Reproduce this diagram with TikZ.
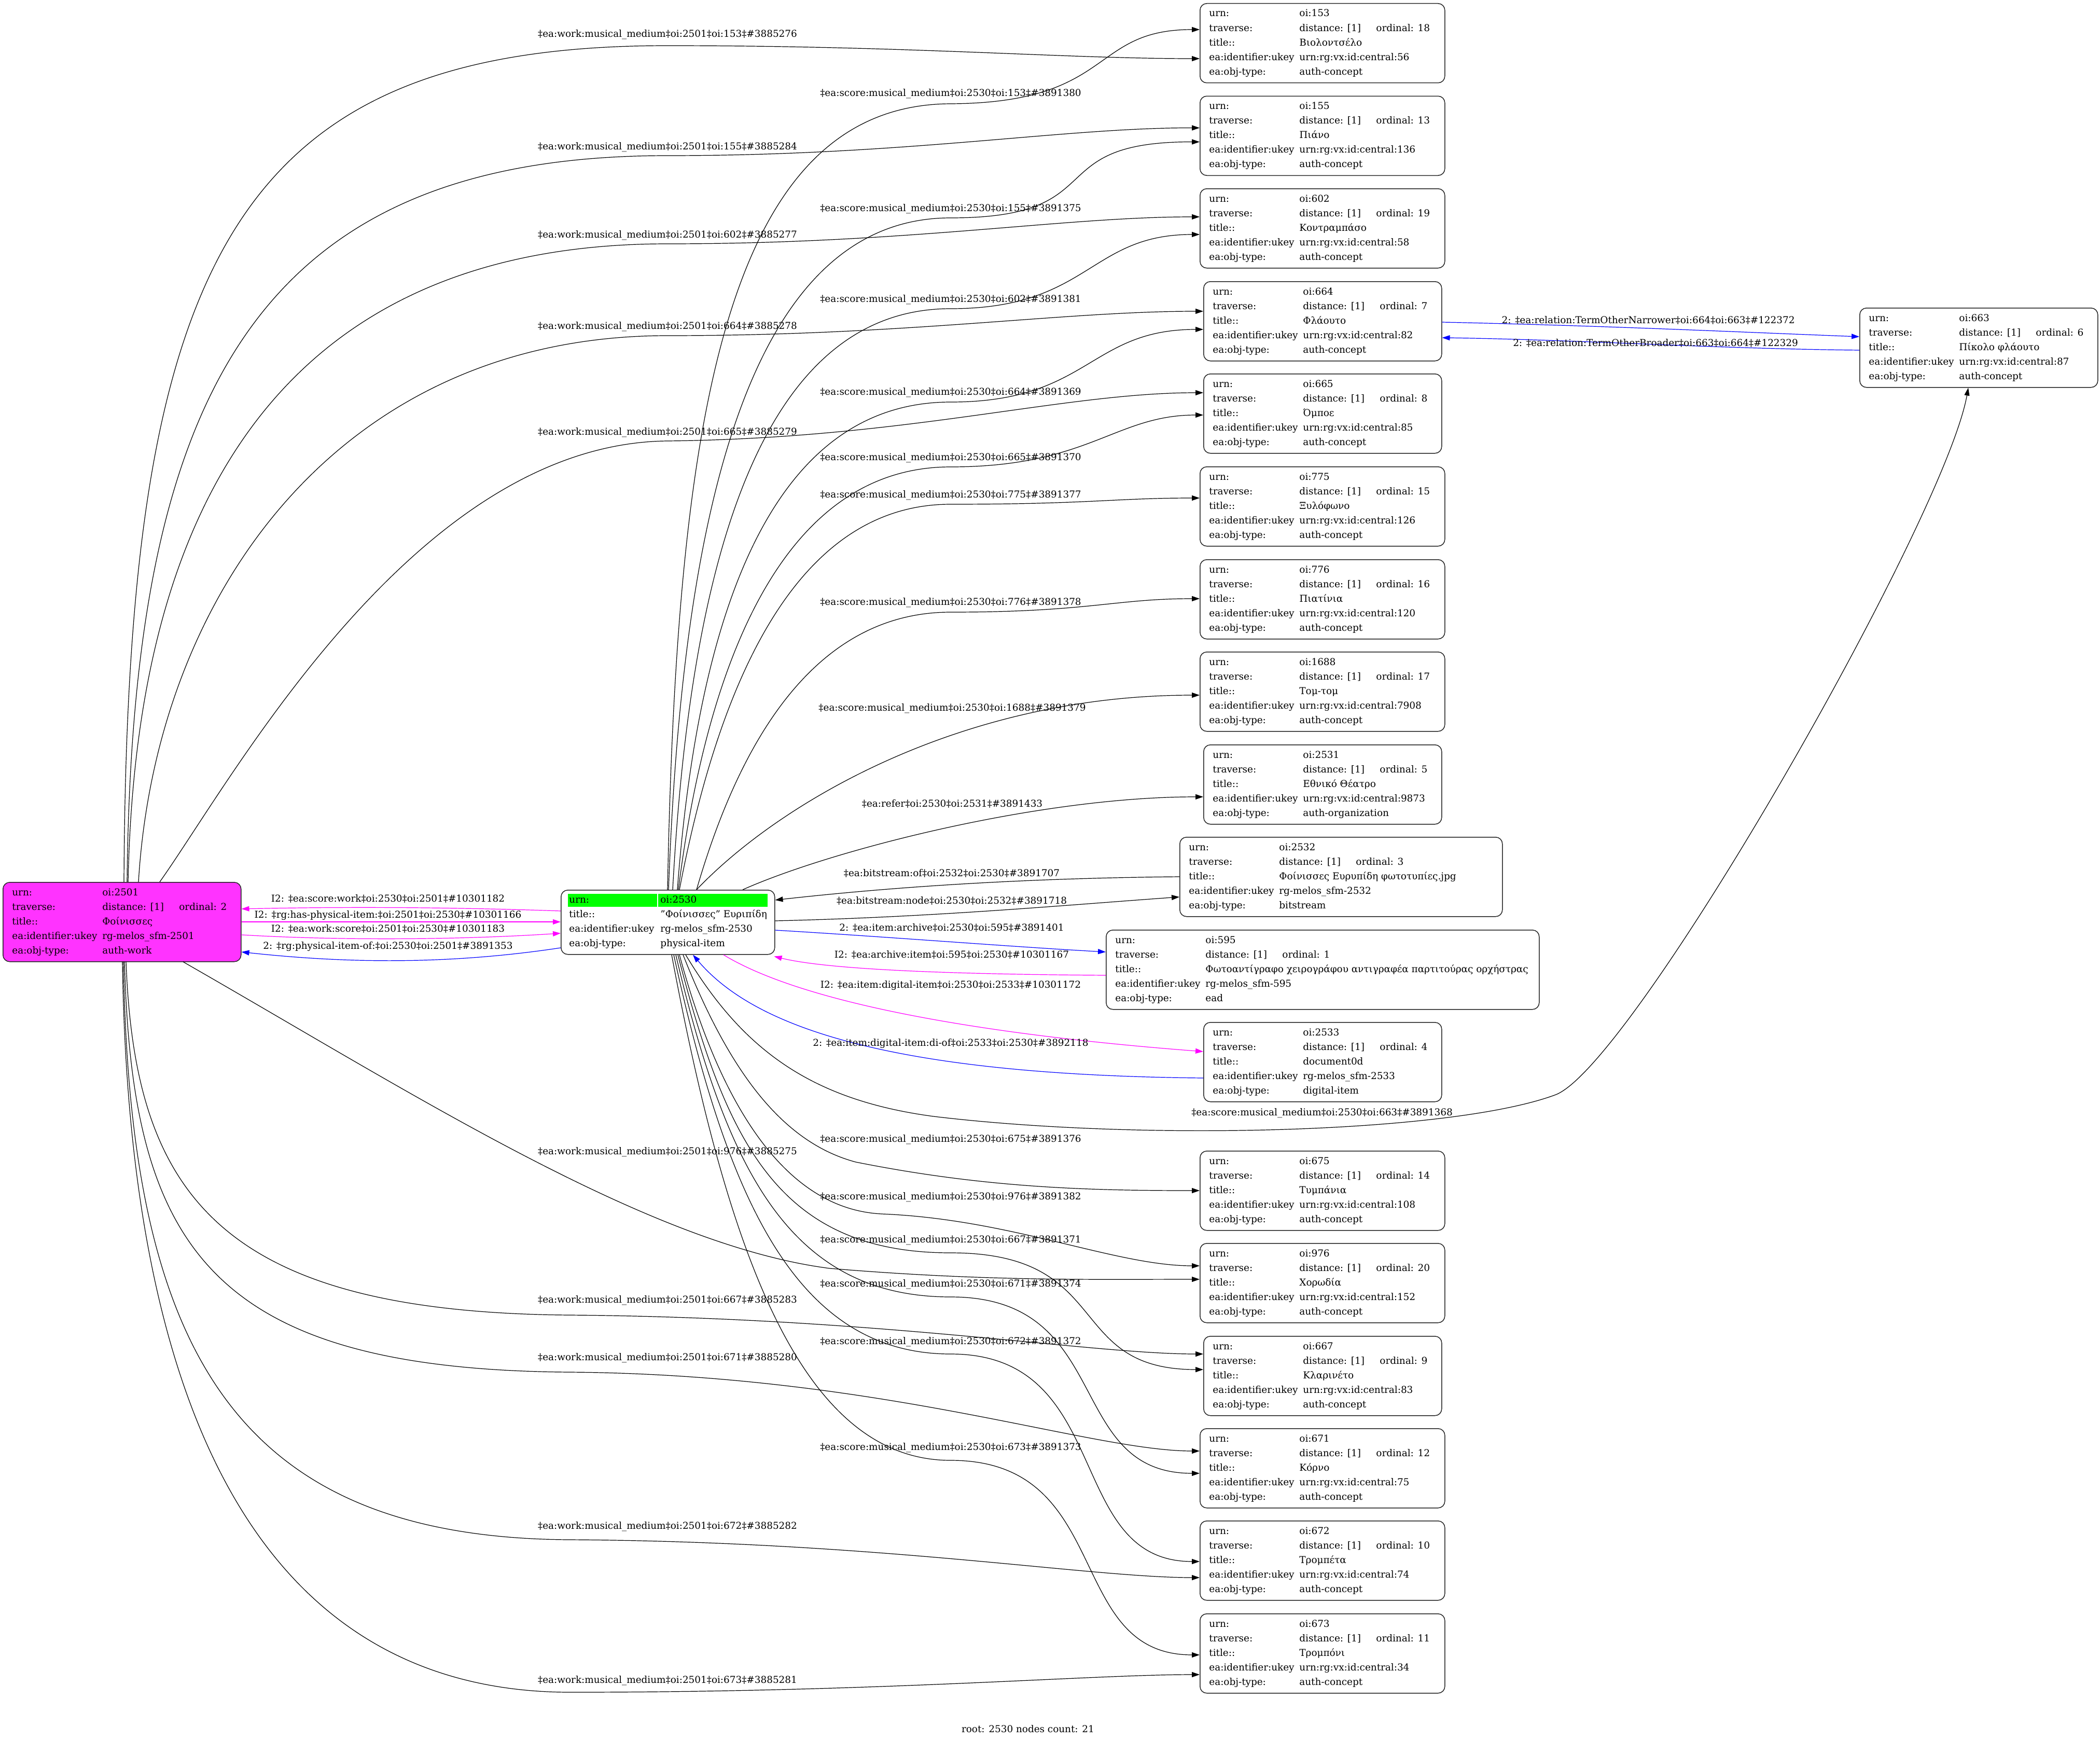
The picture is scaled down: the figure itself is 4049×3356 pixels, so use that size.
\documentclass[tikz,border=0pt]{standalone}
\usepackage{fontspec}
\setmainfont{DejaVu Serif}
\usetikzlibrary{arrows.meta,calc}
\definecolor{mag}{HTML}{FF00FF}
\definecolor{magfill}{HTML}{FF33FF}
\definecolor{blu}{HTML}{0000FF}
\definecolor{grn}{HTML}{00FF00}
\tikzset{
  boxextra/.style={},
  box/.style={draw=black!85, line width=0.75pt, rounded corners=6.5pt, inner sep=0pt,
    anchor=north west, minimum height=76.5pt, boxextra},
  tx/.style={anchor=base west, inner sep=0pt, font=\fontsize{9.2}{11}\selectfont},
  lab/.style={anchor=center, inner sep=0pt, font=\fontsize{9.2}{11}\selectfont},
  e/.style={line width=0.6pt, -{Triangle[length=7.5pt,width=5pt]}},
  em/.style={e, draw=mag},
  eb/.style={e, draw=blu},
}
\newcommand\Cbox[9]{%
  \node[box, minimum width=#4*0.5pt] (#1) at (#2,#3) {};
  \node[tx] (#1ra) at ($(#1.north west)+(18,26)$) {urn:};
  \node[tx] (#1rb) at ($(#1.north west)+(192,26)$) {#5};
  \node[tx] (#1rc) at ($(#1.north west)+(18,54.1)$) {traverse:};
  \node[tx] (#1rd) at ($(#1.north west)+(192,54.1)$) {distance: [1]};
  \node[tx] (#1re) at ($(#1.north west)+(340,54.1)$) {ordinal: #6};
  \node[tx] (#1rf) at ($(#1.north west)+(18,82.2)$) {title::};
  \node[tx] (#1rg) at ($(#1.north west)+(192,82.2)$) {#7};
  \node[tx] (#1rh) at ($(#1.north west)+(18,110.3)$) {ea:identifier:ukey};
  \node[tx] (#1ri) at ($(#1.north west)+(192,110.3)$) {#8};
  \node[tx] (#1rj) at ($(#1.north west)+(18,138.4)$) {ea:obj-type:};
  \node[tx] (#1rk) at ($(#1.north west)+(192,138.4)$) {#9};
}
\newcommand\wm[1]{‡ea:work:musical\_medium‡oi:2501‡oi:#1‡\#}
\newcommand\sm[1]{‡ea:score:musical\_medium‡oi:2530‡oi:#1‡\#}
\begin{document}
\begin{tikzpicture}[x=0.5pt,y=-0.5pt]
\useasboundingbox (0,0) rectangle (4049,3356);
% ---------- nodes ----------
\Cbox{n153}{2313}{6}{472}{oi:153}{18}{Βιολοντσέλο}{urn:rg:vx:id:central:56}{auth-concept}
\Cbox{n155}{2313}{184.5}{472}{oi:155}{13}{Πιάνο}{urn:rg:vx:id:central:136}{auth-concept}
\Cbox{n602}{2313}{363}{472}{oi:602}{19}{Κοντραμπάσο}{urn:rg:vx:id:central:58}{auth-concept}
\Cbox{n664}{2320}{542}{459}{oi:664}{7}{Φλάουτο}{urn:rg:vx:id:central:82}{auth-concept}
\Cbox{n665}{2320}{720}{459}{oi:665}{8}{Όμποε}{urn:rg:vx:id:central:85}{auth-concept}
\Cbox{n775}{2313}{899}{472}{oi:775}{15}{Ξυλόφωνο}{urn:rg:vx:id:central:126}{auth-concept}
\Cbox{n776}{2313}{1078}{472}{oi:776}{16}{Πιατίνια}{urn:rg:vx:id:central:120}{auth-concept}
\Cbox{n1688}{2313}{1256}{472}{oi:1688}{17}{Τομ-τομ}{urn:rg:vx:id:central:7908}{auth-concept}
\Cbox{n2531}{2320}{1435}{459}{oi:2531}{5}{Εθνικό Θέατρο}{urn:rg:vx:id:central:9873}{auth-organization}
\Cbox{n2532}{2274}{1613}{622}{oi:2532}{3}{Φοίνισσες Ευρυπίδη φωτοτυπίες.jpg}{rg-melos\_sfm-2532}{bitstream}
\Cbox{n595}{2132}{1792}{835}{oi:595}{1}{Φωτοαντίγραφο χειρογράφου αντιγραφέα παρτιτούρας ορχήστρας}{rg-melos\_sfm-595}{ead}
\Cbox{n2533}{2320}{1970}{459}{oi:2533}{4}{document0d}{rg-melos\_sfm-2533}{digital-item}
\Cbox{n675}{2313}{2218}{472}{oi:675}{14}{Τυμπάνια}{urn:rg:vx:id:central:108}{auth-concept}
\Cbox{n976}{2313}{2396}{472}{oi:976}{20}{Χορωδία}{urn:rg:vx:id:central:152}{auth-concept}
\Cbox{n667}{2320}{2575}{459}{oi:667}{9}{Κλαρινέτο}{urn:rg:vx:id:central:83}{auth-concept}
\Cbox{n671}{2313}{2753}{472}{oi:671}{12}{Κόρνο}{urn:rg:vx:id:central:75}{auth-concept}
\Cbox{n672}{2313}{2931}{472}{oi:672}{10}{Τρομπέτα}{urn:rg:vx:id:central:74}{auth-concept}
\Cbox{n673}{2313}{3110}{472}{oi:673}{11}{Τρομπόνι}{urn:rg:vx:id:central:34}{auth-concept}
\Cbox{n663}{3585}{593}{459}{oi:663}{6}{Πίκολο φλάουτο}{urn:rg:vx:id:central:87}{auth-concept}
\begin{scope}[boxextra/.style={fill=magfill}]
\Cbox{n2501}{5}{1700}{459}{oi:2501}{2}{Φοίνισσες}{rg-melos\_sfm-2501}{auth-work}
\end{scope}
% root node 2530
\node[box, minimum width=206pt, minimum height=62pt] (n2530) at (1081,1715) {};
\fill[grn] ($(n2530.north west)+(14,8)$) rectangle ($(n2530.north west)+(186,33)$);
\fill[grn] ($(n2530.north west)+(188,8)$) rectangle ($(n2530.north west)+(399,33)$);
\node[tx] (n2530ra) at ($(n2530.north west)+(16,25)$) {urn:};
\node[tx] (n2530rb) at ($(n2530.north west)+(192,25)$) {oi:2530};
\node[tx] (n2530rc) at ($(n2530.north west)+(16,53)$) {title::};
\node[tx] (n2530rd) at ($(n2530.north west)+(192,53)$) {"Φοίνισσες" Ευριπίδη};
\node[tx] (n2530re) at ($(n2530.north west)+(16,81)$) {ea:identifier:ukey};
\node[tx] (n2530rf) at ($(n2530.north west)+(192,81)$) {rg-melos\_sfm-2530};
\node[tx] (n2530rg) at ($(n2530.north west)+(16,109)$) {ea:obj-type:};
\node[tx] (n2530rh) at ($(n2530.north west)+(192,109)$) {physical-item};
% ---------- edges 2501 -> upper concepts ----------
\draw[e] ($(n2501.north west)+(234,0)$) .. controls (245,500) and (450,88) .. (1287,88) .. controls (1750,88) and (2050,113) .. ($(n153.north west)+(0,107)$);
\draw[e] ($(n2501.north west)+(240,0)$) .. controls (255,750) and (500,300) .. (1287,300) .. controls (1750,300) and (2050,246) .. ($(n155.north west)+(0,62)$);
\draw[e] ($(n2501.north west)+(242,0)$) .. controls (262,950) and (560,470) .. (1287,470) .. controls (1750,470) and (2050,418) .. ($(n602.north west)+(0,55)$);
\draw[e] ($(n2501.north west)+(262,0)$) .. controls (300,1150) and (650,647) .. (1287,647) .. controls (1750,647) and (2050,600) .. ($(n664.north west)+(0,58)$);
\draw[e] ($(n2501.north west)+(303,0)$) .. controls (450,1500) and (800,855) .. (1287,850) .. controls (1750,845) and (2050,757) .. ($(n665.north west)+(0,37)$);
% ---------- edges 2530 -> upper concepts ----------
\draw[e] ($(n2530.north west)+(206,0)$) .. controls (1305,800) and (1400,202) .. (1833,200) .. controls (2150,198) and (2100,57) .. ($(n153.north west)+(0,51)$);
\draw[e] ($(n2530.north west)+(208,0)$) .. controls (1315,1000) and (1440,420) .. (1833,420) .. controls (2150,420) and (2000,273) .. ($(n155.north west)+(0,89)$);
\draw[e] ($(n2530.north west)+(216,0)$) .. controls (1330,1100) and (1460,595) .. (1833,595) .. controls (2100,595) and (2100,452) .. ($(n602.north west)+(0,89)$);
\draw[e] ($(n2530.north west)+(225,0)$) .. controls (1345,1200) and (1480,775) .. (1833,775) .. controls (2100,775) and (2100,635) .. ($(n664.north west)+(0,93)$);
\draw[e] ($(n2530.north west)+(227,0)$) .. controls (1360,1300) and (1500,900) .. (1833,900) .. controls (2100,900) and (2150,800) .. ($(n665.north west)+(0,80)$);
\draw[e] ($(n2530.north west)+(229,0)$) .. controls (1380,1350) and (1520,972) .. (1833,972) .. controls (2100,972) and (2150,960) .. ($(n775.north west)+(0,61)$);
\draw[e] ($(n2530.north west)+(262,0)$) .. controls (1420,1450) and (1560,1180) .. (1833,1180) .. controls (2100,1180) and (2150,1154) .. ($(n776.north west)+(0,76)$);
\draw[e] ($(n2530.north west)+(262,0)$) .. controls (1500,1550) and (1850,1340) .. ($(n1688.north west)+(0,84)$);
\draw[e] ($(n2530.north west)+(351,0)$) .. controls (1600,1640) and (2000,1536) .. ($(n2531.north west)+(0,101)$);
% ---------- 2501 <-> 2530 ----------
\draw[em] ($(n2530.north west)+(0,41)$) .. controls (850,1748) and (650,1748) .. ($(n2501.north east)+(0,52)$);
\draw[em] ($(n2501.north east)+(0,77)$) -- ($(n2530.north west)+(0,62)$);
\draw[em] ($(n2501.north east)+(0,102)$) .. controls (650,1813) and (880,1812) .. ($(n2530.north west)+(0,84)$);
\draw[eb] ($(n2530.north west)+(0,112)$) .. controls (850,1862) and (650,1855) .. ($(n2501.north east)+(0,135)$);
% ---------- 2530 <-> 2532 / 595 / 2533 ----------
\draw[e] ($(n2532.north west)+(0,77)$) .. controls (1950,1693) and (1700,1712) .. ($(n2530.north east)+(0,20)$);
\draw[e] ($(n2530.north east)+(0,60)$) .. controls (1800,1768) and (2050,1745) .. ($(n2532.north west)+(0,116)$);
\draw[eb] ($(n2530.north east)+(0,78)$) .. controls (1700,1805) and (1950,1825) .. ($(n595.north west)+(0,43)$);
\draw[em] ($(n595.north west)+(0,88)$) .. controls (1850,1878) and (1600,1870) .. ($(n2530.south east)+(-2,3)$);
\draw[em] ($(n2530.south west)+(314,0)$) .. controls (1550,1935) and (1900,1995) .. ($(n2533.north west)+(0,57)$);
\draw[eb] ($(n2533.north west)+(0,108)$) .. controls (1700,2072) and (1450,1975) .. ($(n2530.south west)+(255,0)$);
% ---------- 2530 -> 663 ----------
\draw[e] ($(n2530.south west)+(241,0)$) .. controls (1430,2020) and (1560,2120) .. (1800,2152) .. controls (2200,2200) and (2800,2185) .. (3000,2110) .. controls (3150,2050) and (3750,1000) .. ($(n663.south west)+(210,0)$);
% ---------- 664 <-> 663 ----------
\draw[eb] ($(n664.north east)+(0,79)$) .. controls (3100,628) and (3350,640) .. ($(n663.north west)+(0,56)$);
\draw[eb] ($(n663.north west)+(0,82)$) .. controls (3300,672) and (3050,655) .. ($(n664.north east)+(0,109)$);
% ---------- 2530 -> lower concepts ----------
\draw[e] ($(n2530.south west)+(236,0)$) .. controls (1400,2050) and (1500,2200) .. (1650,2240) .. controls (1900,2290) and (2100,2295) .. ($(n675.north west)+(0,77)$);
\draw[e] ($(n2530.south west)+(229,0)$) .. controls (1380,2100) and (1500,2330) .. (1700,2340) .. controls (1950,2350) and (2150,2440) .. ($(n976.north west)+(0,44)$);
\draw[e] ($(n2530.south west)+(226,0)$) .. controls (1400,2200) and (1500,2415) .. (1833,2415) .. controls (2150,2415) and (2050,2640) .. ($(n667.north west)+(0,65)$);
\draw[e] ($(n2530.south west)+(222,0)$) .. controls (1400,2250) and (1520,2500) .. (1833,2500) .. controls (2150,2500) and (2050,2840) .. ($(n671.north west)+(0,87)$);
\draw[e] ($(n2530.south west)+(218,0)$) .. controls (1400,2300) and (1530,2610) .. (1833,2610) .. controls (2150,2610) and (2050,3010) .. ($(n672.north west)+(0,79)$);
\draw[e] ($(n2530.south west)+(214,0)$) .. controls (1400,2400) and (1540,2815) .. (1833,2815) .. controls (2150,2815) and (2050,3190) .. ($(n673.north west)+(0,80)$);
% ---------- 2501 -> lower concepts ----------
\draw[e] ($(n2501.north west)+(348,154)$) .. controls (800,2110) and (1250,2400) .. (1600,2445) .. controls (1900,2470) and (2100,2466) .. ($(n976.north west)+(0,70)$);
\draw[e] ($(n2501.north west)+(238,154)$) .. controls (260,2300) and (420,2530) .. (1100,2535) .. controls (1700,2540) and (2100,2610) .. ($(n667.north west)+(0,35)$);
\draw[e] ($(n2501.north west)+(235,154)$) .. controls (255,2400) and (400,2640) .. (1100,2645) .. controls (1700,2650) and (2100,2797) .. ($(n671.north west)+(0,44)$);
\draw[e] ($(n2501.north west)+(233,154)$) .. controls (250,2600) and (450,2965) .. (1100,2968) .. controls (1700,2972) and (2100,3041) .. ($(n672.north west)+(0,110)$);
\draw[e] ($(n2501.north west)+(231,154)$) .. controls (250,2800) and (550,3262) .. (1100,3262) .. controls (1700,3262) and (2100,3228) .. ($(n673.north west)+(0,118)$);
% ---------- labels ----------
\node[lab] (la1) at (1287,67) {\wm{153}3885276};
\node[lab] (la2) at (1287,284) {\wm{155}3885284};
\node[lab] (la3) at (1287,454) {\wm{602}3885277};
\node[lab] (la4) at (1287,630) {\wm{664}3885278};
\node[lab] (la5) at (1287,834) {\wm{665}3885279};
\node[lab] (la6) at (1287,2221) {\wm{976}3885275};
\node[lab] (la7) at (1287,2507) {\wm{667}3885283};
\node[lab] (la8) at (1287,2618) {\wm{671}3885280};
\node[lab] (la9) at (1287,2943) {\wm{672}3885282};
\node[lab] (la10) at (1287,3240) {\wm{673}3885281};
\node[lab] (lb1) at (1833,181) {\sm{153}3891380};
\node[lab] (lb2) at (1833,403) {\sm{155}3891375};
\node[lab] (lb3) at (1833,578) {\sm{602}3891381};
\node[lab] (lb4) at (1833,757) {\sm{664}3891369};
\node[lab] (lb5) at (1833,883) {\sm{665}3891370};
\node[lab] (lb6) at (1833,955) {\sm{775}3891377};
\node[lab] (lb7) at (1833,1162) {\sm{776}3891378};
\node[lab] (lb8) at (1836,1366) {\sm{1688}3891379};
\node[lab] (lb9) at (1836,1549) {‡ea:refer‡oi:2530‡oi:2531‡\#3891433};
\node[lab] (lb10) at (1835,1683) {‡ea:bitstream:of‡oi:2532‡oi:2530‡\#3891707};
\node[lab] (lb11) at (1835,1736) {‡ea:bitstream:node‡oi:2530‡oi:2532‡\#3891718};
\node[lab] (lb12) at (1835,1788) {2: ‡ea:item:archive‡oi:2530‡oi:595‡\#3891401};
\node[lab] (lb13) at (1835,1840) {I2: ‡ea:archive:item‡oi:595‡oi:2530‡\#10301167};
\node[lab] (lb14) at (1833,1900) {I2: ‡ea:item:digital-item‡oi:2530‡oi:2533‡\#10301172};
\node[lab] (lb15) at (1833,2012) {2: ‡ea:item:digital-item:di-of‡oi:2533‡oi:2530‡\#3892118};
\node[lab] (lb16) at (2549,2146) {\sm{663}3891368};
\node[lab] (lb17) at (1833,2197) {\sm{675}3891376};
\node[lab] (lb18) at (1833,2308) {\sm{976}3891382};
\node[lab] (lb19) at (1833,2391) {\sm{667}3891371};
\node[lab] (lb20) at (1833,2476) {\sm{671}3891374};
\node[lab] (lb21) at (1833,2587) {\sm{672}3891372};
\node[lab] (lb22) at (1833,2791) {\sm{673}3891373};
\node[lab] (lc1) at (748,1732) {I2: ‡ea:score:work‡oi:2530‡oi:2501‡\#10301182};
\node[lab] (lc2) at (748,1765) {I2: ‡rg:has-physical-item:‡oi:2501‡oi:2530‡\#10301166};
\node[lab] (lc3) at (748,1790) {I2: ‡ea:work:score‡oi:2501‡oi:2530‡\#10301183};
\node[lab] (lc4) at (748,1825) {2: ‡rg:physical-item-of:‡oi:2530‡oi:2501‡\#3891353};
\node[lab] (ld1) at (3178,617) {2: ‡ea:relation:TermOtherNarrower‡oi:664‡oi:663‡\#122372};
\node[lab] (ld2) at (3192,661) {2: ‡ea:relation:TermOtherBroader‡oi:663‡oi:664‡\#122329};
\node[lab] (foot) at (1982,3333) {root: 2530 nodes count: 21};
\end{tikzpicture}
\end{document}
